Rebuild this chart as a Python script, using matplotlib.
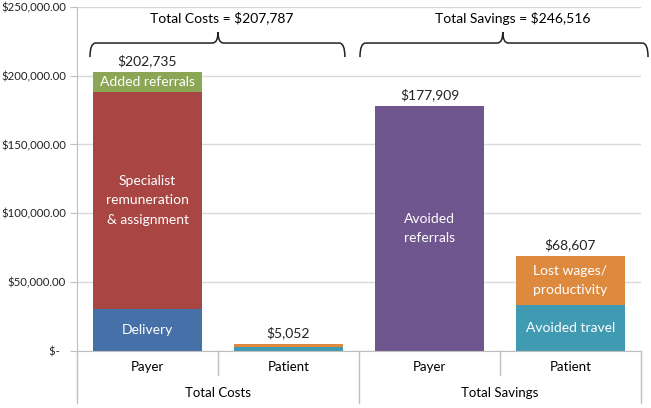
import matplotlib.pyplot as plt
import numpy as np
from matplotlib.path import Path
from matplotlib.patches import PathPatch
from matplotlib.ticker import FuncFormatter

plt.rcParams['font.family'] = ['Lato', 'DejaVu Sans']

# categories along the x axis (two-level)
categories = ["Payer", "Patient", "Payer", "Patient"]
groups = ["Total Costs", "Total Savings"]

# stacked segments, one value per bar
delivery = [30300, 0, 0, 0]
specialist = [158100, 0, 0, 0]
added_referrals = [14335, 0, 0, 0]
avoided_referrals = [0, 0, 177909, 0]
avoided_travel = [0, 2600, 0, 33200]
lost_wages = [0, 2452, 0, 35407]

series = [
    (delivery, "#4570A8", "Delivery"),
    (specialist, "#A94543", "Specialist\nremuneration\n& assignment"),
    (added_referrals, "#8BA755", "Added referrals"),
    (avoided_referrals, "#70568E", "Avoided\nreferrals"),
    (avoided_travel, "#3F9AB2", "Avoided travel"),
    (lost_wages, "#DD8A3E", "Lost wages/\nproductivity"),
]

fig = plt.figure(figsize=(6.51, 4.08), dpi=100)
ax = fig.add_axes([0.1183, 0.1404, 0.8663, 0.8424])

x = np.arange(len(categories))
bottom = np.zeros(len(categories))
for vals, color, label in series:
    vals = np.array(vals, dtype=float)
    ax.bar(x, vals, 0.77, bottom=bottom, color=color, zorder=2)
    # white label inside big enough segments
    for i, v in enumerate(vals):
        if v > 10000:
            ax.text(x[i], bottom[i] + v / 2, label, ha="center", va="center",
                    color="white", fontsize=10, linespacing=1.75, zorder=3)
    bottom += vals

# totals above bars
for i, tot in enumerate(bottom):
    ax.text(x[i], tot + 3500, "${:,.0f}".format(tot), ha="center", va="bottom",
            fontsize=10, color="#222222")

ax.set_xlim(-0.5, 3.5)
ax.set_ylim(0, 250000)
ax.set_yticks(np.arange(0, 250001, 50000))
ax.yaxis.set_major_formatter(FuncFormatter(
    lambda v, p: "$-  " if v == 0 else "${:,.2f}".format(v)))
ax.tick_params(axis="y", length=5, color="#BFBFBF", labelsize=8.2, pad=3,
               labelcolor="#222222")
ax.set_xticks([])
ax.grid(axis="y", color="#D9D9D9", linewidth=1, zorder=0)
for s in ["top", "right"]:
    ax.spines[s].set_visible(False)
ax.spines["left"].set_color("#BFBFBF")
ax.spines["bottom"].set_color("#BFBFBF")

# two-level category axis
tr = ax.get_xaxis_transform()
for i, c in enumerate(categories):
    ax.text(x[i], -0.047, c, transform=tr, ha="center", va="center", fontsize=9.5)
for g, name in enumerate(groups):
    ax.text(2 * g + 0.5, -0.123, name, transform=tr, ha="center", va="center",
            fontsize=9.5)
for xs in [-0.5, 1.5, 3.5]:
    ax.plot([xs, xs], [0, -0.152], transform=tr, color="#BFBFBF", lw=1, clip_on=False)
for xs in [0.5, 2.5]:
    ax.plot([xs, xs], [0, -0.0707], transform=tr, color="#BFBFBF", lw=1, clip_on=False)


# curly braces over each group
def brace(x0, x1, xt, ylow, ymid, ytop, dx):
    verts = [(x0, ylow), (x0, ymid), (x0 + dx, ymid),
             (xt - dx, ymid), (xt, ymid), (xt, ytop),
             (xt, ymid), (xt + dx, ymid),
             (x1 - dx, ymid), (x1, ymid), (x1, ylow)]
    codes = [Path.MOVETO, Path.CURVE3, Path.CURVE3,
             Path.LINETO, Path.CURVE3, Path.CURVE3,
             Path.CURVE3, Path.CURVE3,
             Path.LINETO, Path.CURVE3, Path.CURVE3]
    ax.add_patch(PathPatch(Path(verts, codes), fill=False, lw=1.1,
                           color="#222222", clip_on=False))


brace(-0.408, 1.40, 0.5, 213600, 223800, 231800, 0.04)
brace(1.507, 3.55, 2.52, 213600, 223800, 231800, 0.04)
ax.text(0.528, 242000, "Total Costs = $207,787", ha="center", va="center", fontsize=10)
ax.text(2.59, 242000, "Total Savings = $246,516", ha="center", va="center", fontsize=10)

fig.savefig("out.png", dpi=100)
